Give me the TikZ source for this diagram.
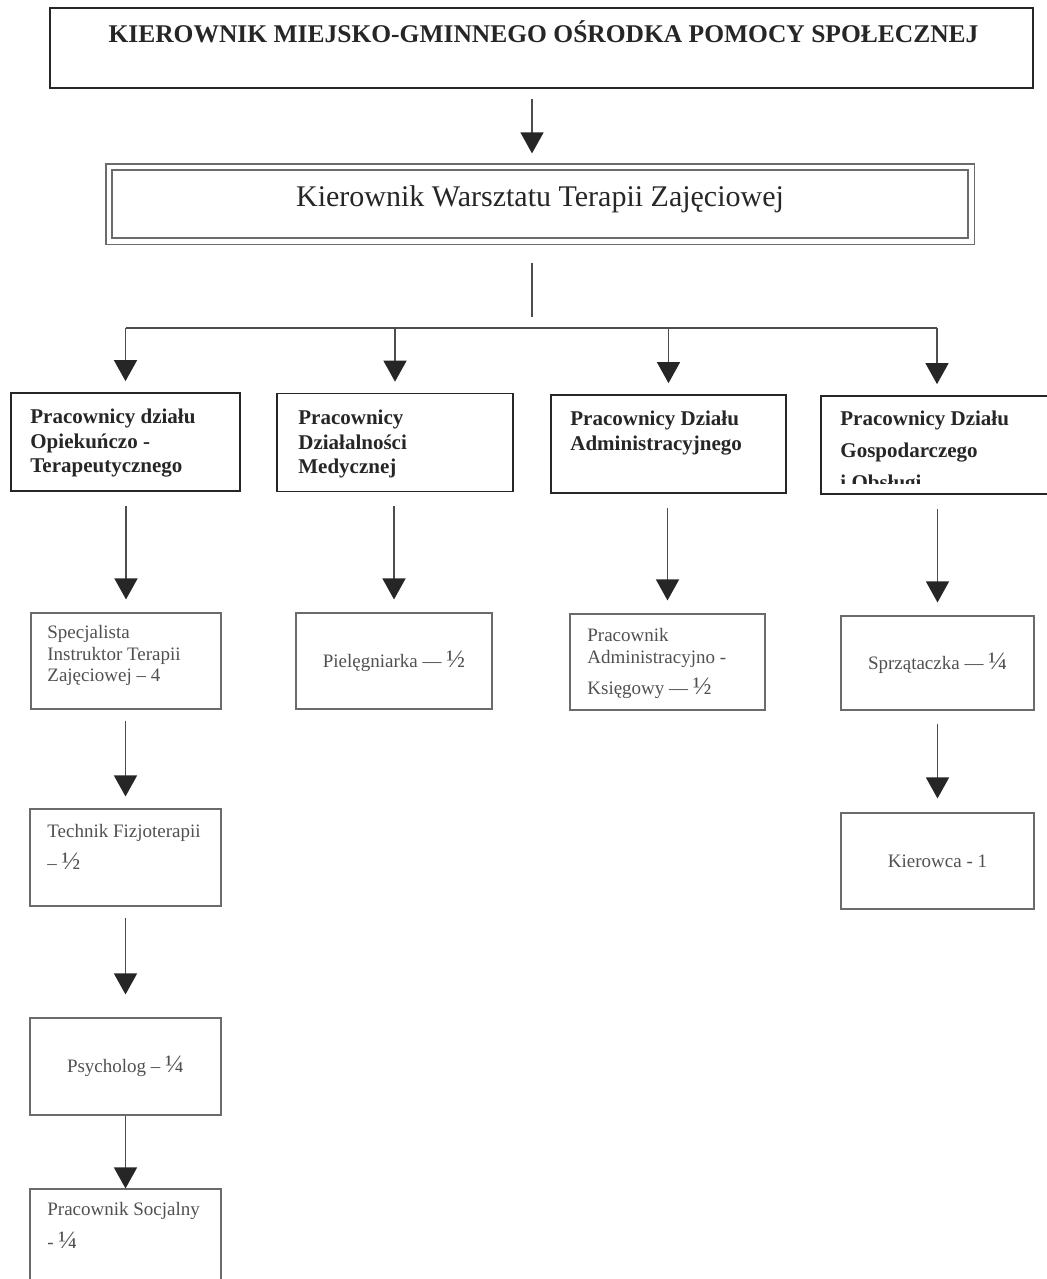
\documentclass[tikz,border=0pt]{standalone}
\usepackage{fontspec}
\setmainfont{Liberation Serif}
\usetikzlibrary{arrows.meta}

\definecolor{linegray}{HTML}{4D4D4D}
\definecolor{boxgray}{HTML}{6B6B6B}
\definecolor{textgray}{HTML}{505050}
\definecolor{darktext}{HTML}{262626}

\newcommand{\ulamek}[1]{{\fontsize{12.5}{12}\selectfont #1}}

\begin{document}
\begin{tikzpicture}[x=0.5pt,y=-0.5pt,
    conn/.style={draw=linegray, line width=0.7pt},
    arrow/.style={conn, -{Triangle[width=11.5pt,length=10.5pt,color=darktext]}},
    depttext/.style={anchor=north west, inner sep=0pt, align=left, text=darktext,
      font=\fontsize{10.5}{12.25}\selectfont\bfseries},
    stafftext/.style={anchor=north west, inner sep=0pt, align=left, text=textgray,
      font=\fontsize{9.5}{10.75}\selectfont}]

  \useasboundingbox (0,0) rectangle (1047,1279);

  % top of the chart
  \node[draw=darktext, line width=1pt, minimum width=491.5pt, minimum height=40pt] (top) at (541.5,48) {};
  \node[anchor=base, text=darktext, font=\fontsize{12.75}{15}\selectfont\bfseries] (toptxt) at (543.5,43)
    {KIEROWNIK MIEJSKO-GMINNEGO OŚRODKA POMOCY SPOŁECZNEJ};

  \node[draw=boxgray, line width=0.6pt, minimum width=428pt, minimum height=34pt,
    text height=10.5pt, text depth=8pt, text=darktext,
    font=\fontsize{15}{18}\selectfont] (kws) at (540,204) {Kierownik Warsztatu Terapii Zajęciowej};
  \draw[boxgray, line width=0.6pt] ([shift={(-2.75pt,2.75pt)}]kws.north west)
    rectangle ([shift={(2.75pt,-2.75pt)}]kws.south east);

  % departments
  \begin{scope}[every node/.style={draw=darktext, line width=0.85pt, minimum height=49pt}]
    \node[minimum width=114.5pt] (d1) at (125.5,442) {};
    \node[minimum width=118pt]   (d2) at (395,442.5) {};
    \node[minimum width=117.5pt] (d3) at (668.5,444) {};
    \node[minimum width=116pt]   (d4) at (937,445) {};
  \end{scope}

  \node[depttext] (d1t) at (30,409)  {Pracownicy działu\\Opiekuńczo -\\Terapeutycznego};
  \node[depttext] (d2t) at (298,410) {Pracownicy\\Działalności\\Medycznej};
  \node[depttext] (d3t) at (570,411) {Pracownicy Działu\\Administracyjnego};
  \begin{scope}
    \clip (d4.north west) rectangle (1047,483);
    \node[depttext, font=\fontsize{10.5}{16}\selectfont\bfseries] (d4t) at (840,411)
      {Pracownicy Działu\\Gospodarczego\\i Obsługi};
  \end{scope}

  % staff
  \begin{scope}[every node/.style={draw=boxgray, line width=0.55pt, text=textgray,
      font=\fontsize{9.5}{10.75}\selectfont}]
    \node[minimum width=95pt,   minimum height=48pt]   (b1) at (126,661) {};
    \node[minimum width=98pt,   minimum height=48pt]   (b2) at (394,661) {Pielęgniarka — \ulamek{½}};
    \node[minimum width=97.5pt, minimum height=48pt]   (b3) at (667.5,662) {};
    \node[minimum width=96.5pt, minimum height=47pt]   (b4) at (937.5,663) {Sprzątaczka — \ulamek{¼}};
    \node[minimum width=95.5pt, minimum height=48.5pt] (b5) at (125.5,857.5) {};
    \node[minimum width=95.5pt, minimum height=48.5pt] (b6) at (125.5,1066.5) {Psycholog – \ulamek{¼}};
    \node[minimum width=95.5pt, minimum height=55.5pt] (b7) at (125.5,1244.5) {};
    \node[minimum width=96.5pt, minimum height=48pt]   (b8) at (937.5,861) {Kierowca - 1};
  \end{scope}

  \node[stafftext] (b1t) at (47,625)   {Specjalista\\Instruktor Terapii\\Zajęciowej – 4};
  \node[stafftext] (b3t) at (587,628)  {Pracownik\\Administracyjno -\\[4.75pt]Księgowy — \ulamek{½}};
  \node[stafftext] (b5t) at (47,824)   {Technik Fizjoterapii\\[5pt]– \ulamek{½}};
  \node[stafftext] (b7t) at (47,1202)  {Pracownik Socjalny\\[5.5pt]- \ulamek{¼}};

  % connectors
  \coordinate (trunk) at (532,317);
  \coordinate (bar) at (0,328);

  \draw[arrow, shorten <=5pt, shorten >=8pt] (top.south -| trunk) -- (kws.north -| trunk);
  \draw[conn, shorten <=12pt] (kws.south -| trunk) -- (trunk);
  \draw[conn] (d1.north |- bar) -- (d4.north |- bar);

  \foreach \d in {d1,d2,d3,d4}
    \draw[arrow, shorten >=5.5pt] (\d.north |- bar) -- (\d.north);

  \foreach \a/\b in {d1/b1,d2/b2,d3/b3,d4/b4}
    \draw[arrow, shorten <=7pt, shorten >=6.5pt] (\b.north |- \a.south) -- (\b.north);

  \draw[arrow, shorten <=5.5pt, shorten >=6pt]    (b5.north |- b1.south) -- (b5.north);
  \draw[arrow, shorten <=5.5pt, shorten >=11.5pt] (b6.north |- b5.south) -- (b6.north);
  \draw[arrow] (b6) -- (b7);
  \draw[arrow, shorten <=6.5pt, shorten >=7pt]    (b8.north |- b4.south) -- (b8.north);

\end{tikzpicture}
\end{document}
